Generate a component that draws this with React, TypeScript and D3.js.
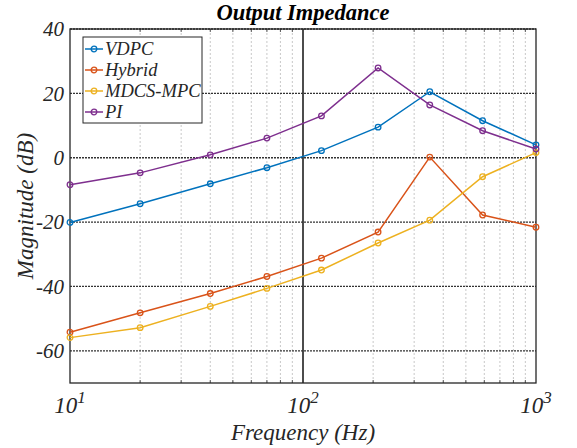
import React from "react";
import { scaleLog, scaleLinear, line } from "d3";

const width = 577;
const height = 448;
const margin = { top: 29, right: 41, bottom: 65, left: 70 };
const innerW = width - margin.left - margin.right;
const innerH = height - margin.top - margin.bottom;

const freqs = [10, 20, 40, 70, 120, 210, 350, 590, 1000];
const seriesNames = ["VDPC", "Hybrid", "MDCS-MPC", "PI"];
const seriesColors = ["#0072BD", "#D95319", "#EDB120", "#7E2F8E"];
const vdpc = [-20.1, -14.3, -8.1, -3.1, 2.2, 9.5, 20.5, 11.5, 4.0];
const hybrid = [-54.2, -48.2, -42.2, -36.9, -31.2, -23.1, 0.2, -17.8, -21.6];
const mdcs = [-55.9, -52.8, -46.2, -40.6, -34.9, -26.5, -19.4, -5.9, 1.6];
const pi = [-8.4, -4.7, 0.9, 6.1, 13.0, 27.9, 16.4, 8.4, 2.7];
const seriesValues = [vdpc, hybrid, mdcs, pi];
const yTicks = [-60, -40, -20, 0, 20, 40];
const xDecades = [1, 2, 3];

const x = scaleLog().domain([10, 1000]).range([0, innerW]);
const y = scaleLinear().domain([-70, 40]).range([innerH, 0]);

const minorTicks: number[] = [];
[10, 100].forEach((d) => {
  for (let k = 2; k <= 9; k++) minorTicks.push(d * k);
});

const txt = {
  fontFamily: "Liberation Serif",
  fontStyle: "italic",
} as React.CSSProperties;

function App() {
  const pathGen = line<number>()
    .x((_, i) => x(freqs[i]))
    .y((d) => y(d));

  return (
    <svg width={width} height={height} style={{ position: "absolute", left: 0, top: 0 }}>
      <rect width={width} height={height} fill="white" />
      <g transform={`translate(${margin.left},${margin.top})`}>
        {minorTicks.map((t) => (
          <g key={`m${t}`}>
            <line x1={x(t)} x2={x(t)} y1={0} y2={innerH} stroke="#c8c8c8" strokeWidth={1} strokeDasharray="2,2" />
            <line x1={x(t)} x2={x(t)} y1={innerH} y2={innerH - 3} stroke="#555" strokeWidth={1} />
            <line x1={x(t)} x2={x(t)} y1={0} y2={3} stroke="#555" strokeWidth={1} />
          </g>
        ))}
        <line x1={x(100)} x2={x(100)} y1={0} y2={innerH} stroke="#111" strokeWidth={1.5} />
        {yTicks.map((t) => (
          <line key={`h${t}`} x1={0} x2={innerW} y1={y(t)} y2={y(t)} stroke="#333" strokeWidth={1.3} strokeDasharray="2,1" />
        ))}
        <rect x={0} y={0} width={innerW} height={innerH} fill="none" stroke="#262626" strokeWidth={1.3} />
        {seriesValues.map((vals, si) => (
          <g key={seriesNames[si]}>
            <path d={pathGen(vals) || ""} fill="none" stroke={seriesColors[si]} strokeWidth={1.5} />
            {vals.map((v, i) => (
              <circle key={i} cx={x(freqs[i])} cy={y(v)} r={2.8} fill="none" stroke={seriesColors[si]} strokeWidth={1.3} />
            ))}
          </g>
        ))}
        {yTicks.map((t) => (
          <text key={`yt${t}`} x={-6} y={y(t)} dy="0.35em" textAnchor="end" style={{ ...txt, fontSize: 21 }} fill="#262626">
            {t}
          </text>
        ))}
        {xDecades.map((p) => (
          <text key={`xt${p}`} x={x(Math.pow(10, p))} y={innerH + 30} textAnchor="middle" style={{ ...txt, fontSize: 23 }} fill="#262626">
            10
            <tspan dy={-10} style={{ fontSize: 17 }}>{p}</tspan>
          </text>
        ))}
        <g transform="translate(13,8)">
          <rect x={0} y={0} width={119} height={86} fill="white" stroke="#262626" strokeWidth={1} />
          {seriesNames.map((n, i) => (
            <g key={n} transform={`translate(0,${12 + i * 21})`}>
              <line x1={2} x2={20} y1={0} y2={0} stroke={seriesColors[i]} strokeWidth={1.5} />
              <circle cx={11} cy={0} r={2.8} fill="none" stroke={seriesColors[i]} strokeWidth={1.3} />
              <text x={22} y={0} dy="0.35em" style={{ ...txt, fontSize: 18.5 }} fill="#262626">
                {n}
              </text>
            </g>
          ))}
        </g>
      </g>
      <text x={margin.left + innerW / 2} y={20} textAnchor="middle" style={{ ...txt, fontWeight: "bold", fontSize: 22.5 }} fill="#000">
        Output Impedance
      </text>
      <text x={margin.left + innerW / 2} y={440} textAnchor="middle" style={{ ...txt, fontSize: 23 }} fill="#262626">
        Frequency (Hz)
      </text>
      <text transform={`translate(33,${margin.top + innerH / 2}) rotate(-90)`} textAnchor="middle" style={{ ...txt, fontSize: 23 }} fill="#262626">
        Magnitude (dB)
      </text>
    </svg>
  );
}

export default App;
